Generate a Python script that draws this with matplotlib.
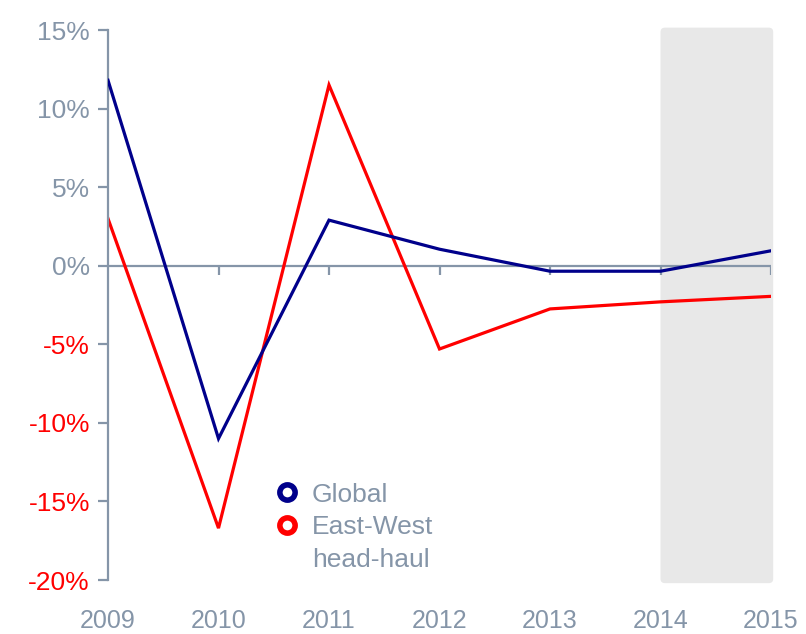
import numpy as np
import matplotlib.pyplot as plt
from matplotlib.patches import FancyBboxPatch
from matplotlib.lines import Line2D

plt.rcParams['font.family'] = ['Liberation Sans', 'DejaVu Sans']

years = [2009, 2010, 2011, 2012, 2013, 2014, 2015]
global_vals = [11.8, -11.0, 2.9, 1.05, -0.35, -0.35, 0.95]
eastwest_vals = [3.0, -16.7, 11.5, -5.3, -2.75, -2.3, -1.95]
yticks = [15, 10, 5, 0, -5, -10, -15, -20]
ytick_labels = ["15%", "10%", "5%", "0%", "-5%", "-10%", "-15%", "-20%"]

grey = "#8595a8"
navy = "#00008b"
red = "#ff0000"

fig = plt.figure(figsize=(8.06, 6.34), dpi=100)
ax = fig.add_axes([108/806, 54/634, 663/806, 550/634])

# forecast shading for 2014-2015
box = FancyBboxPatch((2014.0, -20.2), 1.02, 35.35,
                     boxstyle="round,pad=0,rounding_size=0.04",
                     mutation_aspect=7, facecolor="#e8e8e8", edgecolor="none",
                     zorder=0, clip_on=False)
ax.add_patch(box)

# zero line with small ticks below
ax.axhline(0, color=grey, lw=1.6, zorder=1)
ax.vlines(years[1:], -0.6, 0, color=grey, lw=1.6, zorder=1)

ax.plot(years, global_vals, color=navy, lw=2.3, zorder=3, solid_joinstyle='miter')
ax.plot(years, eastwest_vals, color=red, lw=2.3, zorder=2, solid_joinstyle='miter')

ax.set_xlim(2009, 2015)
ax.set_ylim(-20, 15)

for s in ['top', 'right', 'bottom']:
    ax.spines[s].set_visible(False)
ax.spines['left'].set_color(grey)
ax.spines['left'].set_linewidth(1.6)

ax.set_yticks(yticks)
ax.set_yticklabels(ytick_labels)
ax.tick_params(axis='y', direction='out', length=7, width=1.6, color=grey,
               labelsize=19, pad=6)
for lab, v in zip(ax.get_yticklabels(), yticks):
    lab.set_color(red if v < 0 else grey)

ax.set_xticks(years)
ax.set_xticklabels([str(y) for y in years])
ax.tick_params(axis='x', length=0, labelsize=18, labelcolor=grey, pad=21)

ring = dict(ls='none', marker='o', markersize=11, markerfacecolor='white',
            markeredgewidth=4)
handles = [
    Line2D([], [], markeredgecolor=navy, **ring),
    Line2D([], [], markeredgecolor=red, **ring),
    Line2D([], [], ls='none'),
]
leg = ax.legend(handles, ["Global", "East-West", "head-haul"], loc='upper left',
                bbox_to_anchor=(0.25, 0.177), frameon=False, fontsize=19,
                handletextpad=0.45, labelspacing=0.32, handlelength=1.0,
                borderaxespad=0, borderpad=0)
for t in leg.get_texts():
    t.set_color(grey)

fig.savefig("out.png", dpi=100)
